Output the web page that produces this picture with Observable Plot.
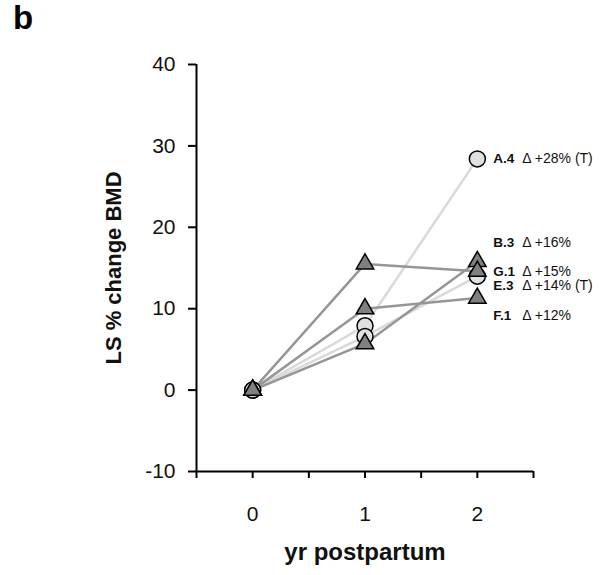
<!DOCTYPE html>
<html>
<head>
<meta charset="utf-8">
<script src="https://cdn.jsdelivr.net/npm/d3@7"></script>
<script src="https://cdn.jsdelivr.net/npm/@observablehq/plot@0.6"></script>
<style>
  body { margin: 0; background: #fff; }
  #wrap { position: relative; width: 601px; height: 575px; font-family: "Liberation Sans", Arial, sans-serif; }
  #wrap svg { position: absolute; left: 0; top: 0; }
  #panel { position: absolute; left: 13px; top: 0px; font-size: 33px; font-weight: bold; line-height: 1.1; z-index: 1; }
</style>
</head>
<body>
<div id="wrap"><div id="panel">b</div></div>
<script>
// Data
const years = [0, 1, 2];
const subjects = ["A.4", "B.3", "G.1", "E.3", "F.1"];
const shapes = ["circle", "triangle", "triangle", "circle", "triangle"];
const changeY0 = [0, 0, 0, 0, 0];
const changeY1 = [7.9, 5.7, 15.5, 6.6, 10.0];
const changeY2 = [28.4, 15.8, 14.6, 14.0, 11.3];
const labelText = ["Δ +28% (T)", "Δ +16%", "Δ +15%", "Δ +14% (T)", "Δ +12%"];
const labelAt = [28.4, 18.1, 14.6, 12.8, 9.2];
const yTicks = [-10, 0, 10, 20, 30, 40];
const xTickLabels = [0, 1, 2];

const rows = [];
subjects.forEach((s, i) => {
  [changeY0[i], changeY1[i], changeY2[i]].forEach((v, j) => {
    rows.push({subject: s, shape: shapes[i], year: years[j], value: v});
  });
});
const labels = subjects.map((s, i) => ({subject: s, text: labelText[i], year: 2, value: labelAt[i]}));

const chart = Plot.plot({
  width: 601,
  height: 575,
  marginLeft: 196,
  marginRight: 68,
  marginTop: 64,
  marginBottom: 104,
  style: {fontFamily: "Liberation Sans, Arial, sans-serif", background: "transparent"},
  x: {domain: [-0.5, 2.5]},
  y: {domain: [-10, 40]},
  marks: [
    Plot.ruleX([-0.5], {stroke: "black", strokeWidth: 2}),
    Plot.ruleY([-10], {stroke: "black", strokeWidth: 2}),
    Plot.axisY({ticks: yTicks, tickSize: 8, tickPadding: 13, fontSize: 21, fill: "#111", strokeWidth: 2, tickFormat: d => String(d), label: null}),
    Plot.axisX({ticks: d3.range(-0.5, 2.51, 0.5), tickSize: 7, strokeWidth: 2, tickFormat: () => "", label: null}),
    Plot.axisX({ticks: xTickLabels, tickSize: 0, tickPadding: 35, fontSize: 21, fill: "#111", tickFormat: d => String(d), label: null}),
    Plot.text(["LS % change BMD"], {frameAnchor: "left", dx: -83, rotate: -90, textAnchor: "middle", lineAnchor: "middle", fontSize: 22, fontWeight: "bold", fill: "#111"}),
    Plot.text(["yr postpartum"], {frameAnchor: "bottom", dy: 81, textAnchor: "middle", lineAnchor: "middle", fontSize: 24, fontWeight: "bold", fill: "#111"}),
    Plot.line(rows.filter(d => d.shape === "circle"), {x: "year", y: "value", z: "subject", stroke: "#d9d9d9", strokeWidth: 2.5}),
    Plot.line(rows.filter(d => d.shape === "triangle"), {x: "year", y: "value", z: "subject", stroke: "#969696", strokeWidth: 2.5}),
    Plot.dot(rows.filter(d => d.shape === "circle"), {x: "year", y: "value", symbol: "circle", r: 8, fill: "#e0e0e0", stroke: "black", strokeWidth: 1.5}),
    Plot.dot(rows.filter(d => d.shape === "triangle"), {x: "year", y: "value", symbol: "triangle", r: 6.5, fill: "#808080", stroke: "black", strokeWidth: 1.5}),
    Plot.text(labels, {x: "year", y: "value", text: "subject", dx: 16, textAnchor: "start", fontSize: 13.5, fontWeight: "bold", fill: "#111"}),
    Plot.text(labels, {x: "year", y: "value", text: "text", dx: 45, textAnchor: "start", fontSize: 14, fill: "#111"})
  ]
});
document.getElementById("wrap").prepend(chart);
</script>
</body>
</html>
